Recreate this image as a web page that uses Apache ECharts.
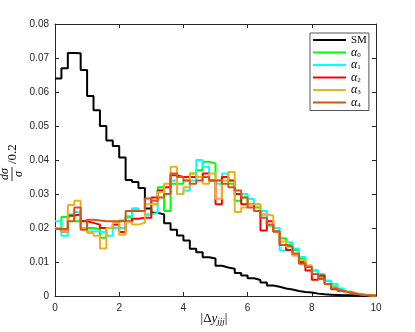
<!DOCTYPE html>
<html lang="en">
<head>
<meta charset="utf-8">
<title>|Δy_jjj| distribution</title>
<script src="https://cdn.jsdelivr.net/npm/echarts@6/dist/echarts.min.js"></script>
<style>
    html, body { margin: 0; padding: 0; background: #fff; }
    #main { width: 415px; height: 332px; }
</style>
</head>
<body>
<div id="main"></div>
<script>
    // histogram bins: 50 bins of width 0.2 from 0 to 10
    var binWidth = 0.2;
    var xMin = 0, xMax = 10, xStep = 2;
    var yMin = 0, yMax = 0.08, yStep = 0.01;

    var seriesNames = ['SM', 'α0', 'α1', 'α2', 'α3', 'α4'];
    var seriesColors = ['#000000', '#00ff00', '#00ffff', '#ff0000', '#edb120', '#d95319'];

    var sm = [0.064, 0.067, 0.0715, 0.0714, 0.0665, 0.0588, 0.0546, 0.0500, 0.0457, 0.0441,
        0.0407, 0.0341, 0.0335, 0.0318, 0.0257, 0.0245, 0.0240, 0.0214, 0.0195, 0.0178,
        0.0163, 0.0139, 0.0129, 0.0114, 0.0110, 0.0089, 0.0084, 0.0080, 0.0068, 0.0060,
        0.0052, 0.0047, 0.0040, 0.0031, 0.0027, 0.0022, 0.0019, 0.0015, 0.0012, 0.0010,
        0.0007, 0.0005, 0.0004, 0.0003, 0.0002, 0.0002, 0.0001, 0.0001, 0.00005, 0.00003];

    var alpha0 = [0.020, 0.0232, 0.0237, 0.022, 0.0222, 0.020, 0.0197, 0.0171, 0.020, 0.021,
        0.0222, 0.0234, 0.0257, 0.025, 0.024, 0.027, 0.032, 0.025, 0.033, 0.033,
        0.034, 0.036, 0.037, 0.0395, 0.039, 0.034, 0.035, 0.033, 0.028, 0.029,
        0.027, 0.026, 0.024, 0.0207, 0.019, 0.017, 0.015, 0.0135, 0.011, 0.0085,
        0.0075, 0.0055, 0.0045, 0.0028, 0.002, 0.0012, 0.0007, 0.0004, 0.0002, 0.0001];

    var alpha1 = [0.022, 0.0177, 0.024, 0.0247, 0.020, 0.019, 0.019, 0.0188, 0.0177, 0.020,
        0.020, 0.023, 0.0256, 0.025, 0.024, 0.0245, 0.031, 0.030, 0.034, 0.030,
        0.031, 0.034, 0.040, 0.038, 0.034, 0.033, 0.036, 0.034, 0.030, 0.030,
        0.0285, 0.027, 0.025, 0.0207, 0.020, 0.0134, 0.0158, 0.014, 0.0115, 0.009,
        0.0075, 0.0065, 0.0045, 0.0035, 0.0022, 0.0013, 0.0008, 0.0005, 0.0003, 0.0001];

    var alpha2 = [0.020, 0.019, 0.0237, 0.024, 0.022, 0.0215, 0.021, 0.020, 0.020, 0.021,
        0.0188, 0.022, 0.0227, 0.023, 0.023, 0.029, 0.031, 0.032, 0.0355, 0.035,
        0.035, 0.035, 0.035, 0.036, 0.034, 0.027, 0.035, 0.034, 0.030, 0.027,
        0.027, 0.025, 0.0193, 0.022, 0.019, 0.015, 0.0135, 0.012, 0.010, 0.0075,
        0.0048, 0.006, 0.0035, 0.002, 0.0015, 0.001, 0.0006, 0.0004, 0.0002, 0.0001];

    var alpha3 = [0.020, 0.019, 0.0268, 0.028, 0.020, 0.0185, 0.0177, 0.014, 0.020, 0.0215,
        0.018, 0.0217, 0.021, 0.0215, 0.027, 0.027, 0.0306, 0.033, 0.038, 0.030,
        0.032, 0.036, 0.035, 0.033, 0.036, 0.0286, 0.034, 0.0365, 0.0247, 0.026,
        0.027, 0.027, 0.024, 0.0237, 0.019, 0.016, 0.0145, 0.012, 0.0105, 0.009,
        0.0065, 0.005, 0.0035, 0.0025, 0.0016, 0.001, 0.0008, 0.0004, 0.0002, 0.0001];

    var alpha4 = [0.0197, 0.0197, 0.022, 0.026, 0.0195, 0.0224, 0.0222, 0.022, 0.022, 0.022,
        0.022, 0.025, 0.025, 0.025, 0.0287, 0.028, 0.029, 0.030, 0.036, 0.035,
        0.034, 0.033, 0.034, 0.035, 0.034, 0.034, 0.033, 0.032, 0.031, 0.029,
        0.026, 0.025, 0.023, 0.021, 0.019, 0.015, 0.0145, 0.0125, 0.0095, 0.0085,
        0.0065, 0.005, 0.0035, 0.0022, 0.0015, 0.001, 0.0006, 0.0003, 0.0002, 0.0001];

    var allValues = [sm, alpha0, alpha1, alpha2, alpha3, alpha4];

    // left edge of every bin, plus the right edge of the last one (stairs style)
    function toStairs(vals) {
        var pts = vals.map(function (v, i) {
            return [i * binWidth, v];
        });
        pts.push([vals.length * binWidth, vals[vals.length - 1]]);
        return pts;
    }

    var axisColor = '#262626';
    var labelFont = 'Liberation Sans';
    var mathFont = 'Liberation Serif';

    function frameAxis(pos, isX) {
        var ax = {
            type: 'value',
            position: pos,
            min: isX ? xMin : yMin,
            max: isX ? xMax : yMax,
            interval: isX ? xStep : yStep,
            axisLine: {show: true, onZero: false, lineStyle: {color: axisColor, width: 1}},
            axisTick: {show: true, inside: true, length: 4, lineStyle: {color: axisColor}},
            splitLine: {show: false},
            axisLabel: {show: false}
        };
        return ax;
    }

    var xBottom = frameAxis('bottom', true);
    xBottom.axisLabel = {show: true, margin: 7, color: axisColor, fontFamily: labelFont, fontSize: 10};
    var yLeft = frameAxis('left', false);
    yLeft.axisLabel = {
        show: true, margin: 6, color: axisColor, fontFamily: labelFont, fontSize: 10,
        formatter: function (v) {
            return v === 0 ? '0' : v.toFixed(2);
        }
    };

    var myChart = echarts.init(document.getElementById('main'), null, {renderer: 'canvas'});

    var option = {
        animation: false,
        backgroundColor: '#ffffff',
        grid: {left: 55, right: 39, top: 24, bottom: 36},
        xAxis: [xBottom, frameAxis('top', true)],
        yAxis: [yLeft, frameAxis('right', false)],
        legend: {
            orient: 'vertical',
            left: 310,
            top: 33,
            padding: [1, 2, 2, 3],
            itemGap: 0.5,
            itemWidth: 33,
            itemHeight: 2,
            icon: 'rect',
            backgroundColor: '#ffffff',
            borderColor: '#555555',
            borderWidth: 1,
            borderRadius: 0,
            data: seriesNames,
            formatter: function (name) {
                if (name === 'SM') return '{n|SM}';
                return '{a|α}{s|' + name.slice(1) + '}';
            },
            textStyle: {
                color: '#000',
                lineHeight: 12,
                rich: {
                    n: {fontFamily: mathFont, fontSize: 11, lineHeight: 12},
                    a: {fontFamily: mathFont, fontSize: 12, fontStyle: 'italic', lineHeight: 12},
                    s: {fontFamily: mathFont, fontSize: 7, lineHeight: 12, verticalAlign: 'bottom', padding: [4, 0, 0, 0]}
                }
            }
        },
        series: allValues.map(function (vals, i) {
            return {
                name: seriesNames[i],
                type: 'line',
                step: 'end',
                xAxisIndex: 0,
                yAxisIndex: 0,
                showSymbol: false,
                symbol: 'none',
                color: seriesColors[i],
                lineStyle: {width: 2, color: seriesColors[i]},
                data: toStairs(vals)
            };
        }),
        graphic: [
            {
                // y label: (dσ / σ) / 0.2, rotated
                type: 'group',
                x: 12,
                y: 174,
                rotation: Math.PI / 2,
                children: [
                    {type: 'text', x: 0, y: -7, style: {text: 'dσ', fontFamily: mathFont, fontStyle: 'italic', fontSize: 12, fill: '#000', align: 'center', verticalAlign: 'middle'}},
                    {type: 'rect', shape: {x: -7, y: -0.4, width: 14, height: 0.8}, style: {fill: '#000'}},
                    {type: 'text', x: 0, y: 7, style: {text: 'σ', fontFamily: mathFont, fontStyle: 'italic', fontSize: 12, fill: '#000', align: 'center', verticalAlign: 'middle'}},
                    {type: 'text', x: 10, y: 1, style: {text: '/0.2', fontFamily: mathFont, fontSize: 13, fill: '#000', align: 'left', verticalAlign: 'middle'}}
                ]
            },
            {
                // x label: |Δy_jjj|
                type: 'text',
                x: 214,
                y: 319,
                style: {
                    text: '{n||Δ}{i|y}{s|jjj}{n||}',
                    align: 'center',
                    verticalAlign: 'middle',
                    fill: '#000',
                    rich: {
                        n: {fontFamily: mathFont, fontSize: 13, lineHeight: 15},
                        i: {fontFamily: mathFont, fontSize: 13, fontStyle: 'italic', lineHeight: 15},
                        s: {fontFamily: mathFont, fontSize: 9, fontStyle: 'italic', lineHeight: 15, verticalAlign: 'bottom', padding: [5, 0, 0, 0]}
                    }
                }
            }
        ]
    };

    myChart.setOption(option);
</script>
</body>
</html>
